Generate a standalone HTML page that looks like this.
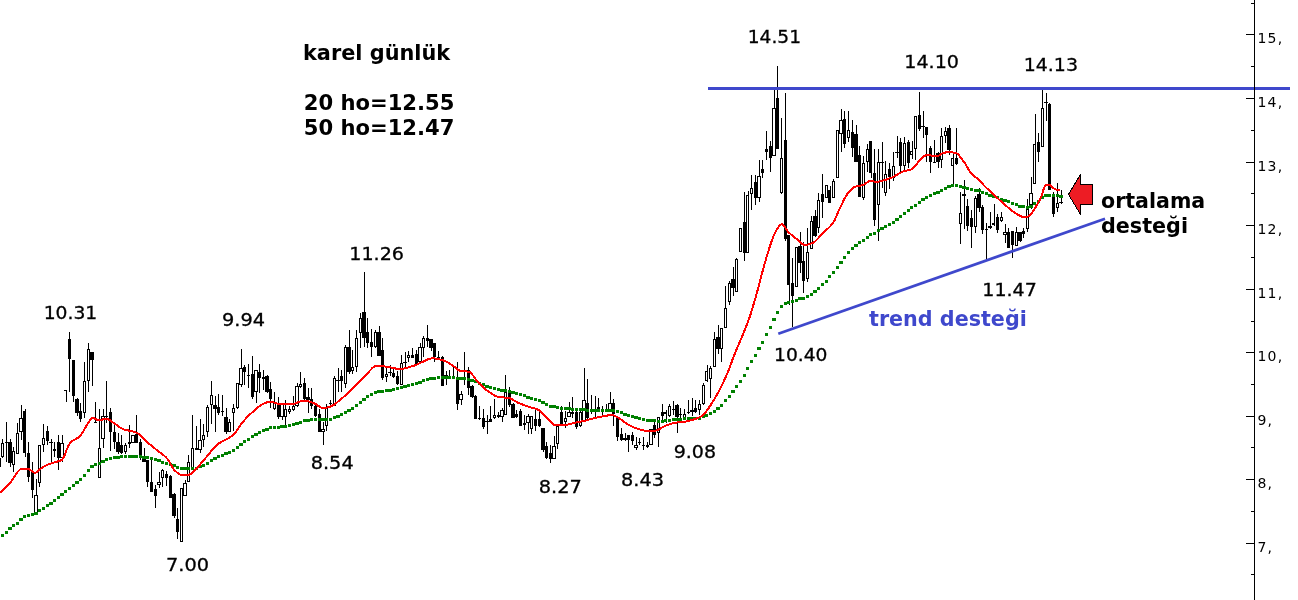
<!DOCTYPE html>
<html><head><meta charset="utf-8"><title>karel günlük</title>
<style>html,body{margin:0;padding:0;background:#fff}svg{display:block}.n{font-family:"DejaVu Sans","Liberation Sans",sans-serif;font-size:18px;fill:#000;stroke:#000;stroke-width:0.3px}.a{font-family:"DejaVu Sans","Liberation Sans",sans-serif;font-size:14px;letter-spacing:1.3px;fill:#000}.b{font-family:"DejaVu Sans","Liberation Sans",sans-serif;font-weight:bold;font-size:20.5px;fill:#000}</style></head><body>
<svg width="1298" height="600" viewBox="0 0 1298 600">
<rect width="1298" height="600" fill="#fff"/>
<g shape-rendering="crispEdges" fill="#000">
<rect x="2" y="439" width="1" height="19"/>
<rect x="1" y="443" width="3" height="14"/>
<rect x="2" y="444" width="1" height="12" fill="#fff"/>
<rect x="6" y="422" width="1" height="40"/>
<rect x="5" y="442" width="3" height="1"/>
<rect x="10" y="439" width="1" height="28"/>
<rect x="8" y="442" width="4" height="21"/>
<rect x="13" y="447" width="1" height="25"/>
<rect x="12" y="451" width="3" height="14"/>
<rect x="13" y="452" width="1" height="12" fill="#fff"/>
<rect x="17" y="423" width="1" height="31"/>
<rect x="16" y="433" width="3" height="21"/>
<rect x="17" y="434" width="1" height="19" fill="#fff"/>
<rect x="21" y="405" width="1" height="35"/>
<rect x="19" y="418" width="4" height="14"/>
<rect x="20" y="419" width="2" height="12" fill="#fff"/>
<rect x="25" y="409" width="1" height="48"/>
<rect x="23" y="411" width="3" height="42"/>
<rect x="28" y="442" width="1" height="40"/>
<rect x="27" y="453" width="3" height="24"/>
<rect x="32" y="462" width="1" height="36"/>
<rect x="31" y="472" width="3" height="18"/>
<rect x="36" y="479" width="1" height="35"/>
<rect x="34" y="495" width="4" height="19"/>
<rect x="35" y="496" width="2" height="17" fill="#fff"/>
<rect x="39" y="445" width="1" height="42"/>
<rect x="38" y="445" width="3" height="38"/>
<rect x="39" y="446" width="1" height="36" fill="#fff"/>
<rect x="43" y="424" width="1" height="28"/>
<rect x="42" y="438" width="3" height="7"/>
<rect x="43" y="439" width="1" height="5" fill="#fff"/>
<rect x="47" y="426" width="1" height="19"/>
<rect x="46" y="431" width="3" height="10"/>
<rect x="51" y="439" width="1" height="23"/>
<rect x="49" y="442" width="4" height="1"/>
<rect x="54" y="442" width="1" height="15"/>
<rect x="53" y="449" width="3" height="2"/>
<rect x="58" y="435" width="1" height="35"/>
<rect x="57" y="442" width="3" height="16"/>
<rect x="62" y="435" width="1" height="27"/>
<rect x="60" y="443" width="4" height="15"/>
<rect x="61" y="444" width="2" height="13" fill="#fff"/>
<rect x="66" y="390" width="1" height="12"/>
<rect x="64" y="390" width="3" height="1"/>
<rect x="69" y="332" width="1" height="60"/>
<rect x="68" y="339" width="3" height="20"/>
<rect x="73" y="360" width="1" height="42"/>
<rect x="72" y="360" width="3" height="36"/>
<rect x="77" y="398" width="1" height="18"/>
<rect x="75" y="399" width="4" height="14"/>
<rect x="80" y="403" width="1" height="19"/>
<rect x="79" y="411" width="3" height="8"/>
<rect x="84" y="362" width="1" height="56"/>
<rect x="83" y="381" width="3" height="32"/>
<rect x="84" y="382" width="1" height="30" fill="#fff"/>
<rect x="88" y="343" width="1" height="49"/>
<rect x="87" y="349" width="3" height="32"/>
<rect x="88" y="350" width="1" height="30" fill="#fff"/>
<rect x="92" y="352" width="1" height="34"/>
<rect x="90" y="352" width="4" height="8"/>
<rect x="95" y="402" width="1" height="20"/>
<rect x="94" y="422" width="3" height="1"/>
<rect x="99" y="409" width="1" height="69"/>
<rect x="98" y="448" width="3" height="30"/>
<rect x="99" y="449" width="1" height="28" fill="#fff"/>
<rect x="103" y="409" width="1" height="39"/>
<rect x="101" y="416" width="4" height="23"/>
<rect x="102" y="417" width="2" height="21" fill="#fff"/>
<rect x="106" y="381" width="1" height="42"/>
<rect x="105" y="416" width="3" height="1"/>
<rect x="110" y="408" width="1" height="43"/>
<rect x="109" y="412" width="3" height="20"/>
<rect x="114" y="424" width="1" height="25"/>
<rect x="113" y="432" width="3" height="10"/>
<rect x="118" y="433" width="1" height="21"/>
<rect x="116" y="442" width="4" height="10"/>
<rect x="121" y="435" width="1" height="19"/>
<rect x="120" y="445" width="3" height="8"/>
<rect x="125" y="443" width="1" height="11"/>
<rect x="124" y="445" width="3" height="7"/>
<rect x="125" y="446" width="1" height="5" fill="#fff"/>
<rect x="129" y="425" width="1" height="23"/>
<rect x="128" y="442" width="3" height="2"/>
<rect x="133" y="435" width="1" height="8"/>
<rect x="131" y="435" width="4" height="8"/>
<rect x="132" y="436" width="2" height="6" fill="#fff"/>
<rect x="136" y="415" width="1" height="28"/>
<rect x="135" y="434" width="3" height="9"/>
<rect x="140" y="439" width="1" height="21"/>
<rect x="139" y="442" width="3" height="16"/>
<rect x="144" y="448" width="1" height="14"/>
<rect x="142" y="458" width="4" height="4"/>
<rect x="147" y="460" width="1" height="27"/>
<rect x="146" y="460" width="3" height="22"/>
<rect x="151" y="460" width="1" height="32"/>
<rect x="150" y="482" width="3" height="10"/>
<rect x="155" y="485" width="1" height="23"/>
<rect x="154" y="489" width="3" height="7"/>
<rect x="159" y="472" width="1" height="16"/>
<rect x="157" y="482" width="4" height="3"/>
<rect x="158" y="483" width="2" height="1" fill="#fff"/>
<rect x="162" y="469" width="1" height="18"/>
<rect x="161" y="470" width="3" height="8"/>
<rect x="162" y="471" width="1" height="6" fill="#fff"/>
<rect x="166" y="471" width="1" height="15"/>
<rect x="165" y="474" width="3" height="4"/>
<rect x="170" y="475" width="1" height="23"/>
<rect x="169" y="476" width="3" height="22"/>
<rect x="174" y="493" width="1" height="25"/>
<rect x="172" y="494" width="4" height="22"/>
<rect x="177" y="508" width="1" height="31"/>
<rect x="176" y="519" width="3" height="13"/>
<rect x="181" y="488" width="1" height="54"/>
<rect x="180" y="488" width="3" height="54"/>
<rect x="181" y="489" width="1" height="52" fill="#fff"/>
<rect x="185" y="480" width="1" height="16"/>
<rect x="183" y="483" width="4" height="13"/>
<rect x="184" y="484" width="2" height="11" fill="#fff"/>
<rect x="188" y="455" width="1" height="27"/>
<rect x="187" y="462" width="3" height="20"/>
<rect x="188" y="463" width="1" height="18" fill="#fff"/>
<rect x="192" y="415" width="1" height="55"/>
<rect x="191" y="448" width="3" height="22"/>
<rect x="192" y="449" width="1" height="20" fill="#fff"/>
<rect x="196" y="426" width="1" height="24"/>
<rect x="195" y="448" width="3" height="2"/>
<rect x="200" y="419" width="1" height="34"/>
<rect x="198" y="440" width="4" height="10"/>
<rect x="199" y="441" width="2" height="8" fill="#fff"/>
<rect x="203" y="424" width="1" height="23"/>
<rect x="202" y="435" width="3" height="5"/>
<rect x="203" y="436" width="1" height="3" fill="#fff"/>
<rect x="207" y="405" width="1" height="32"/>
<rect x="206" y="407" width="3" height="25"/>
<rect x="207" y="408" width="1" height="23" fill="#fff"/>
<rect x="211" y="381" width="1" height="43"/>
<rect x="210" y="395" width="3" height="10"/>
<rect x="211" y="396" width="1" height="8" fill="#fff"/>
<rect x="215" y="396" width="1" height="36"/>
<rect x="213" y="405" width="4" height="4"/>
<rect x="218" y="394" width="1" height="21"/>
<rect x="217" y="407" width="3" height="6"/>
<rect x="222" y="395" width="1" height="21"/>
<rect x="221" y="411" width="3" height="1"/>
<rect x="226" y="408" width="1" height="26"/>
<rect x="224" y="417" width="4" height="15"/>
<rect x="229" y="419" width="1" height="13"/>
<rect x="228" y="422" width="3" height="10"/>
<rect x="229" y="423" width="1" height="8" fill="#fff"/>
<rect x="233" y="404" width="1" height="27"/>
<rect x="232" y="408" width="3" height="5"/>
<rect x="233" y="409" width="1" height="3" fill="#fff"/>
<rect x="237" y="383" width="1" height="26"/>
<rect x="236" y="383" width="3" height="25"/>
<rect x="237" y="384" width="1" height="23" fill="#fff"/>
<rect x="241" y="349" width="1" height="38"/>
<rect x="239" y="368" width="4" height="17"/>
<rect x="240" y="369" width="2" height="15" fill="#fff"/>
<rect x="244" y="365" width="1" height="20"/>
<rect x="243" y="367" width="3" height="5"/>
<rect x="248" y="364" width="1" height="24"/>
<rect x="247" y="375" width="3" height="1"/>
<rect x="252" y="356" width="1" height="43"/>
<rect x="251" y="374" width="3" height="23"/>
<rect x="256" y="370" width="1" height="33"/>
<rect x="254" y="370" width="4" height="22"/>
<rect x="255" y="371" width="2" height="20" fill="#fff"/>
<rect x="259" y="364" width="1" height="29"/>
<rect x="258" y="372" width="3" height="6"/>
<rect x="263" y="370" width="1" height="20"/>
<rect x="262" y="377" width="3" height="2"/>
<rect x="267" y="375" width="1" height="18"/>
<rect x="265" y="376" width="4" height="16"/>
<rect x="270" y="382" width="1" height="26"/>
<rect x="269" y="389" width="3" height="10"/>
<rect x="274" y="392" width="1" height="18"/>
<rect x="273" y="402" width="3" height="7"/>
<rect x="274" y="403" width="1" height="5" fill="#fff"/>
<rect x="278" y="397" width="1" height="22"/>
<rect x="277" y="404" width="3" height="13"/>
<rect x="282" y="404" width="1" height="16"/>
<rect x="280" y="404" width="4" height="13"/>
<rect x="281" y="405" width="2" height="11" fill="#fff"/>
<rect x="285" y="400" width="1" height="28"/>
<rect x="284" y="409" width="3" height="8"/>
<rect x="285" y="410" width="1" height="6" fill="#fff"/>
<rect x="289" y="406" width="1" height="8"/>
<rect x="288" y="409" width="3" height="3"/>
<rect x="289" y="410" width="1" height="1" fill="#fff"/>
<rect x="293" y="396" width="1" height="15"/>
<rect x="292" y="406" width="3" height="4"/>
<rect x="293" y="407" width="1" height="2" fill="#fff"/>
<rect x="297" y="383" width="1" height="24"/>
<rect x="295" y="386" width="4" height="20"/>
<rect x="296" y="387" width="2" height="18" fill="#fff"/>
<rect x="300" y="372" width="1" height="16"/>
<rect x="299" y="384" width="3" height="3"/>
<rect x="300" y="385" width="1" height="1" fill="#fff"/>
<rect x="304" y="378" width="1" height="22"/>
<rect x="303" y="383" width="3" height="16"/>
<rect x="308" y="388" width="1" height="25"/>
<rect x="306" y="397" width="4" height="3"/>
<rect x="311" y="388" width="1" height="21"/>
<rect x="310" y="399" width="3" height="7"/>
<rect x="315" y="404" width="1" height="13"/>
<rect x="314" y="406" width="3" height="10"/>
<rect x="319" y="409" width="1" height="23"/>
<rect x="318" y="414" width="3" height="18"/>
<rect x="323" y="422" width="1" height="23"/>
<rect x="321" y="429" width="4" height="3"/>
<rect x="322" y="430" width="2" height="1" fill="#fff"/>
<rect x="326" y="404" width="1" height="27"/>
<rect x="325" y="408" width="3" height="18"/>
<rect x="326" y="409" width="1" height="16" fill="#fff"/>
<rect x="330" y="400" width="1" height="7"/>
<rect x="329" y="403" width="3" height="1"/>
<rect x="334" y="376" width="1" height="30"/>
<rect x="333" y="378" width="3" height="28"/>
<rect x="334" y="379" width="1" height="26" fill="#fff"/>
<rect x="338" y="368" width="1" height="24"/>
<rect x="336" y="380" width="4" height="1"/>
<rect x="341" y="370" width="1" height="22"/>
<rect x="340" y="376" width="3" height="5"/>
<rect x="345" y="345" width="1" height="43"/>
<rect x="344" y="347" width="3" height="37"/>
<rect x="345" y="348" width="1" height="35" fill="#fff"/>
<rect x="349" y="330" width="1" height="44"/>
<rect x="347" y="347" width="4" height="25"/>
<rect x="352" y="350" width="1" height="24"/>
<rect x="351" y="367" width="3" height="4"/>
<rect x="352" y="368" width="1" height="2" fill="#fff"/>
<rect x="356" y="330" width="1" height="42"/>
<rect x="355" y="338" width="3" height="29"/>
<rect x="356" y="339" width="1" height="27" fill="#fff"/>
<rect x="360" y="313" width="1" height="35"/>
<rect x="359" y="318" width="3" height="15"/>
<rect x="360" y="319" width="1" height="13" fill="#fff"/>
<rect x="364" y="272" width="1" height="75"/>
<rect x="362" y="312" width="4" height="26"/>
<rect x="367" y="318" width="1" height="30"/>
<rect x="366" y="332" width="3" height="11"/>
<rect x="371" y="329" width="1" height="28"/>
<rect x="370" y="342" width="3" height="5"/>
<rect x="375" y="330" width="1" height="18"/>
<rect x="374" y="332" width="3" height="15"/>
<rect x="375" y="333" width="1" height="13" fill="#fff"/>
<rect x="379" y="326" width="1" height="30"/>
<rect x="377" y="332" width="4" height="24"/>
<rect x="382" y="338" width="1" height="42"/>
<rect x="381" y="350" width="3" height="28"/>
<rect x="386" y="367" width="1" height="15"/>
<rect x="385" y="374" width="3" height="3"/>
<rect x="386" y="375" width="1" height="1" fill="#fff"/>
<rect x="390" y="365" width="1" height="11"/>
<rect x="388" y="372" width="4" height="1"/>
<rect x="393" y="367" width="1" height="11"/>
<rect x="392" y="373" width="3" height="4"/>
<rect x="397" y="371" width="1" height="14"/>
<rect x="396" y="376" width="3" height="8"/>
<rect x="401" y="355" width="1" height="30"/>
<rect x="400" y="363" width="3" height="22"/>
<rect x="401" y="364" width="1" height="20" fill="#fff"/>
<rect x="405" y="352" width="1" height="16"/>
<rect x="403" y="362" width="4" height="1"/>
<rect x="408" y="351" width="1" height="11"/>
<rect x="407" y="355" width="3" height="3"/>
<rect x="408" y="356" width="1" height="1" fill="#fff"/>
<rect x="412" y="348" width="1" height="10"/>
<rect x="411" y="355" width="3" height="3"/>
<rect x="416" y="350" width="1" height="15"/>
<rect x="415" y="354" width="3" height="11"/>
<rect x="420" y="343" width="1" height="19"/>
<rect x="418" y="347" width="4" height="15"/>
<rect x="419" y="348" width="2" height="13" fill="#fff"/>
<rect x="423" y="336" width="1" height="21"/>
<rect x="422" y="338" width="3" height="10"/>
<rect x="423" y="339" width="1" height="8" fill="#fff"/>
<rect x="427" y="325" width="1" height="22"/>
<rect x="426" y="338" width="3" height="3"/>
<rect x="431" y="339" width="1" height="12"/>
<rect x="429" y="339" width="4" height="9"/>
<rect x="434" y="343" width="1" height="19"/>
<rect x="433" y="343" width="3" height="14"/>
<rect x="438" y="351" width="1" height="9"/>
<rect x="437" y="357" width="3" height="1"/>
<rect x="442" y="356" width="1" height="30"/>
<rect x="441" y="357" width="3" height="29"/>
<rect x="446" y="371" width="1" height="14"/>
<rect x="444" y="375" width="4" height="1"/>
<rect x="449" y="370" width="1" height="8"/>
<rect x="448" y="376" width="3" height="1"/>
<rect x="453" y="367" width="1" height="12"/>
<rect x="452" y="377" width="3" height="1"/>
<rect x="457" y="362" width="1" height="48"/>
<rect x="456" y="379" width="3" height="25"/>
<rect x="461" y="391" width="1" height="14"/>
<rect x="459" y="394" width="4" height="6"/>
<rect x="460" y="395" width="2" height="4" fill="#fff"/>
<rect x="464" y="352" width="1" height="33"/>
<rect x="463" y="377" width="3" height="1"/>
<rect x="468" y="367" width="1" height="28"/>
<rect x="467" y="370" width="3" height="18"/>
<rect x="472" y="385" width="1" height="13"/>
<rect x="470" y="386" width="4" height="11"/>
<rect x="475" y="395" width="1" height="24"/>
<rect x="474" y="396" width="3" height="23"/>
<rect x="479" y="406" width="1" height="14"/>
<rect x="478" y="418" width="3" height="1"/>
<rect x="483" y="409" width="1" height="20"/>
<rect x="482" y="418" width="3" height="9"/>
<rect x="487" y="415" width="1" height="19"/>
<rect x="485" y="421" width="4" height="1"/>
<rect x="490" y="406" width="1" height="16"/>
<rect x="489" y="419" width="3" height="3"/>
<rect x="494" y="399" width="1" height="20"/>
<rect x="493" y="415" width="3" height="3"/>
<rect x="494" y="416" width="1" height="1" fill="#fff"/>
<rect x="498" y="412" width="1" height="6"/>
<rect x="497" y="415" width="3" height="2"/>
<rect x="502" y="408" width="1" height="14"/>
<rect x="500" y="410" width="4" height="7"/>
<rect x="501" y="411" width="2" height="5" fill="#fff"/>
<rect x="505" y="375" width="1" height="40"/>
<rect x="504" y="392" width="3" height="23"/>
<rect x="505" y="393" width="1" height="21" fill="#fff"/>
<rect x="509" y="387" width="1" height="20"/>
<rect x="508" y="392" width="3" height="13"/>
<rect x="513" y="403" width="1" height="15"/>
<rect x="511" y="404" width="4" height="14"/>
<rect x="516" y="410" width="1" height="8"/>
<rect x="515" y="414" width="3" height="3"/>
<rect x="520" y="409" width="1" height="17"/>
<rect x="519" y="411" width="3" height="15"/>
<rect x="524" y="415" width="1" height="15"/>
<rect x="523" y="423" width="3" height="2"/>
<rect x="528" y="414" width="1" height="20"/>
<rect x="526" y="416" width="4" height="7"/>
<rect x="527" y="417" width="2" height="5" fill="#fff"/>
<rect x="531" y="416" width="1" height="18"/>
<rect x="530" y="416" width="3" height="13"/>
<rect x="531" y="417" width="1" height="11" fill="#fff"/>
<rect x="535" y="408" width="1" height="23"/>
<rect x="534" y="419" width="3" height="7"/>
<rect x="539" y="412" width="1" height="15"/>
<rect x="538" y="419" width="3" height="7"/>
<rect x="543" y="428" width="1" height="24"/>
<rect x="541" y="428" width="4" height="22"/>
<rect x="546" y="442" width="1" height="17"/>
<rect x="545" y="446" width="3" height="12"/>
<rect x="550" y="445" width="1" height="18"/>
<rect x="549" y="453" width="3" height="6"/>
<rect x="554" y="436" width="1" height="23"/>
<rect x="552" y="446" width="4" height="13"/>
<rect x="553" y="447" width="2" height="11" fill="#fff"/>
<rect x="557" y="426" width="1" height="23"/>
<rect x="556" y="426" width="3" height="18"/>
<rect x="557" y="427" width="1" height="16" fill="#fff"/>
<rect x="561" y="406" width="1" height="19"/>
<rect x="560" y="412" width="3" height="12"/>
<rect x="565" y="411" width="1" height="17"/>
<rect x="564" y="418" width="3" height="4"/>
<rect x="565" y="419" width="1" height="2" fill="#fff"/>
<rect x="569" y="402" width="1" height="15"/>
<rect x="567" y="412" width="4" height="5"/>
<rect x="568" y="413" width="2" height="3" fill="#fff"/>
<rect x="572" y="397" width="1" height="21"/>
<rect x="571" y="412" width="3" height="2"/>
<rect x="576" y="411" width="1" height="18"/>
<rect x="575" y="412" width="3" height="15"/>
<rect x="580" y="410" width="1" height="17"/>
<rect x="579" y="412" width="3" height="14"/>
<rect x="580" y="413" width="1" height="12" fill="#fff"/>
<rect x="584" y="368" width="1" height="54"/>
<rect x="582" y="400" width="4" height="22"/>
<rect x="583" y="401" width="2" height="20" fill="#fff"/>
<rect x="587" y="379" width="1" height="40"/>
<rect x="586" y="403" width="3" height="15"/>
<rect x="591" y="395" width="1" height="19"/>
<rect x="590" y="410" width="3" height="1"/>
<rect x="595" y="396" width="1" height="21"/>
<rect x="593" y="410" width="4" height="1"/>
<rect x="598" y="398" width="1" height="12"/>
<rect x="597" y="407" width="3" height="2"/>
<rect x="602" y="406" width="1" height="10"/>
<rect x="601" y="411" width="3" height="1"/>
<rect x="606" y="404" width="1" height="8"/>
<rect x="605" y="409" width="3" height="1"/>
<rect x="610" y="392" width="1" height="18"/>
<rect x="608" y="403" width="4" height="7"/>
<rect x="609" y="404" width="2" height="5" fill="#fff"/>
<rect x="613" y="399" width="1" height="27"/>
<rect x="612" y="403" width="3" height="11"/>
<rect x="617" y="416" width="1" height="25"/>
<rect x="616" y="418" width="3" height="19"/>
<rect x="621" y="428" width="1" height="13"/>
<rect x="620" y="434" width="3" height="6"/>
<rect x="625" y="433" width="1" height="8"/>
<rect x="623" y="438" width="4" height="2"/>
<rect x="628" y="435" width="1" height="17"/>
<rect x="627" y="435" width="3" height="5"/>
<rect x="632" y="432" width="1" height="13"/>
<rect x="631" y="435" width="3" height="6"/>
<rect x="636" y="437" width="1" height="13"/>
<rect x="634" y="445" width="4" height="3"/>
<rect x="635" y="446" width="2" height="1" fill="#fff"/>
<rect x="639" y="438" width="1" height="7"/>
<rect x="638" y="442" width="3" height="1"/>
<rect x="643" y="437" width="1" height="13"/>
<rect x="642" y="445" width="3" height="1"/>
<rect x="647" y="442" width="1" height="6"/>
<rect x="646" y="445" width="3" height="2"/>
<rect x="651" y="429" width="1" height="16"/>
<rect x="649" y="429" width="4" height="16"/>
<rect x="650" y="430" width="2" height="14" fill="#fff"/>
<rect x="654" y="422" width="1" height="16"/>
<rect x="653" y="425" width="3" height="10"/>
<rect x="658" y="417" width="1" height="30"/>
<rect x="657" y="417" width="3" height="16"/>
<rect x="658" y="418" width="1" height="14" fill="#fff"/>
<rect x="662" y="404" width="1" height="16"/>
<rect x="661" y="412" width="3" height="4"/>
<rect x="666" y="410" width="1" height="13"/>
<rect x="664" y="412" width="3" height="2"/>
<rect x="669" y="404" width="1" height="13"/>
<rect x="668" y="406" width="3" height="10"/>
<rect x="669" y="407" width="1" height="8" fill="#fff"/>
<rect x="673" y="401" width="1" height="14"/>
<rect x="672" y="409" width="3" height="1"/>
<rect x="677" y="404" width="1" height="29"/>
<rect x="675" y="405" width="4" height="12"/>
<rect x="680" y="408" width="1" height="10"/>
<rect x="679" y="414" width="3" height="1"/>
<rect x="684" y="409" width="1" height="10"/>
<rect x="683" y="414" width="3" height="4"/>
<rect x="684" y="415" width="1" height="2" fill="#fff"/>
<rect x="688" y="400" width="1" height="14"/>
<rect x="687" y="412" width="3" height="1"/>
<rect x="692" y="398" width="1" height="18"/>
<rect x="690" y="410" width="4" height="2"/>
<rect x="695" y="400" width="1" height="13"/>
<rect x="694" y="408" width="3" height="4"/>
<rect x="699" y="400" width="1" height="15"/>
<rect x="698" y="404" width="3" height="6"/>
<rect x="699" y="405" width="1" height="4" fill="#fff"/>
<rect x="703" y="383" width="1" height="22"/>
<rect x="702" y="385" width="3" height="19"/>
<rect x="703" y="386" width="1" height="17" fill="#fff"/>
<rect x="707" y="365" width="1" height="17"/>
<rect x="705" y="371" width="3" height="10"/>
<rect x="706" y="372" width="1" height="8" fill="#fff"/>
<rect x="710" y="366" width="1" height="32"/>
<rect x="709" y="368" width="3" height="11"/>
<rect x="710" y="369" width="1" height="9" fill="#fff"/>
<rect x="714" y="332" width="1" height="35"/>
<rect x="713" y="339" width="3" height="28"/>
<rect x="714" y="340" width="1" height="26" fill="#fff"/>
<rect x="718" y="325" width="1" height="29"/>
<rect x="716" y="337" width="4" height="12"/>
<rect x="721" y="328" width="1" height="34"/>
<rect x="720" y="328" width="3" height="21"/>
<rect x="721" y="329" width="1" height="19" fill="#fff"/>
<rect x="725" y="286" width="1" height="42"/>
<rect x="724" y="308" width="3" height="20"/>
<rect x="725" y="309" width="1" height="18" fill="#fff"/>
<rect x="729" y="281" width="1" height="24"/>
<rect x="728" y="283" width="3" height="19"/>
<rect x="729" y="284" width="1" height="17" fill="#fff"/>
<rect x="733" y="267" width="1" height="29"/>
<rect x="731" y="279" width="4" height="9"/>
<rect x="736" y="258" width="1" height="34"/>
<rect x="735" y="259" width="3" height="33"/>
<rect x="736" y="260" width="1" height="31" fill="#fff"/>
<rect x="740" y="228" width="1" height="24"/>
<rect x="739" y="228" width="3" height="24"/>
<rect x="740" y="229" width="1" height="22" fill="#fff"/>
<rect x="744" y="192" width="1" height="69"/>
<rect x="743" y="222" width="3" height="31"/>
<rect x="748" y="191" width="1" height="62"/>
<rect x="746" y="195" width="3" height="58"/>
<rect x="747" y="196" width="1" height="56" fill="#fff"/>
<rect x="751" y="175" width="1" height="35"/>
<rect x="750" y="188" width="3" height="6"/>
<rect x="751" y="189" width="1" height="4" fill="#fff"/>
<rect x="755" y="175" width="1" height="30"/>
<rect x="754" y="182" width="3" height="16"/>
<rect x="759" y="160" width="1" height="42"/>
<rect x="757" y="176" width="4" height="22"/>
<rect x="758" y="177" width="2" height="20" fill="#fff"/>
<rect x="762" y="160" width="1" height="18"/>
<rect x="761" y="169" width="3" height="4"/>
<rect x="766" y="131" width="1" height="29"/>
<rect x="765" y="149" width="3" height="3"/>
<rect x="770" y="141" width="1" height="31"/>
<rect x="769" y="146" width="3" height="12"/>
<rect x="774" y="89" width="1" height="67"/>
<rect x="772" y="108" width="4" height="48"/>
<rect x="773" y="109" width="2" height="46" fill="#fff"/>
<rect x="777" y="66" width="1" height="83"/>
<rect x="776" y="98" width="3" height="51"/>
<rect x="781" y="118" width="1" height="76"/>
<rect x="780" y="158" width="3" height="35"/>
<rect x="781" y="159" width="1" height="33" fill="#fff"/>
<rect x="785" y="93" width="1" height="148"/>
<rect x="784" y="140" width="3" height="99"/>
<rect x="789" y="235" width="1" height="70"/>
<rect x="787" y="235" width="3" height="50"/>
<rect x="792" y="258" width="1" height="69"/>
<rect x="791" y="283" width="3" height="13"/>
<rect x="796" y="247" width="1" height="40"/>
<rect x="795" y="247" width="3" height="40"/>
<rect x="796" y="248" width="1" height="38" fill="#fff"/>
<rect x="800" y="232" width="1" height="41"/>
<rect x="798" y="246" width="4" height="17"/>
<rect x="803" y="242" width="1" height="51"/>
<rect x="802" y="261" width="3" height="20"/>
<rect x="807" y="228" width="1" height="54"/>
<rect x="806" y="252" width="3" height="27"/>
<rect x="807" y="253" width="1" height="25" fill="#fff"/>
<rect x="811" y="216" width="1" height="33"/>
<rect x="810" y="221" width="3" height="28"/>
<rect x="811" y="222" width="1" height="26" fill="#fff"/>
<rect x="815" y="210" width="1" height="27"/>
<rect x="813" y="216" width="4" height="20"/>
<rect x="818" y="193" width="1" height="40"/>
<rect x="817" y="200" width="3" height="28"/>
<rect x="818" y="201" width="1" height="26" fill="#fff"/>
<rect x="822" y="174" width="1" height="44"/>
<rect x="821" y="194" width="3" height="8"/>
<rect x="826" y="185" width="1" height="13"/>
<rect x="825" y="185" width="3" height="13"/>
<rect x="826" y="186" width="1" height="11" fill="#fff"/>
<rect x="830" y="186" width="1" height="17"/>
<rect x="828" y="190" width="3" height="13"/>
<rect x="833" y="179" width="1" height="19"/>
<rect x="832" y="181" width="3" height="17"/>
<rect x="833" y="182" width="1" height="15" fill="#fff"/>
<rect x="837" y="130" width="1" height="48"/>
<rect x="836" y="130" width="3" height="48"/>
<rect x="837" y="131" width="1" height="46" fill="#fff"/>
<rect x="841" y="109" width="1" height="43"/>
<rect x="839" y="120" width="4" height="14"/>
<rect x="840" y="121" width="2" height="12" fill="#fff"/>
<rect x="844" y="111" width="1" height="37"/>
<rect x="843" y="119" width="3" height="25"/>
<rect x="848" y="111" width="1" height="31"/>
<rect x="847" y="130" width="3" height="8"/>
<rect x="848" y="131" width="1" height="6" fill="#fff"/>
<rect x="852" y="120" width="1" height="37"/>
<rect x="851" y="132" width="3" height="16"/>
<rect x="856" y="125" width="1" height="37"/>
<rect x="854" y="134" width="4" height="28"/>
<rect x="859" y="146" width="1" height="51"/>
<rect x="858" y="155" width="3" height="42"/>
<rect x="863" y="156" width="1" height="44"/>
<rect x="862" y="163" width="3" height="35"/>
<rect x="863" y="164" width="1" height="33" fill="#fff"/>
<rect x="867" y="144" width="1" height="28"/>
<rect x="866" y="149" width="3" height="13"/>
<rect x="867" y="150" width="1" height="11" fill="#fff"/>
<rect x="871" y="141" width="1" height="37"/>
<rect x="869" y="141" width="3" height="32"/>
<rect x="874" y="149" width="1" height="77"/>
<rect x="873" y="173" width="3" height="47"/>
<rect x="878" y="149" width="1" height="92"/>
<rect x="877" y="162" width="3" height="43"/>
<rect x="878" y="163" width="1" height="41" fill="#fff"/>
<rect x="882" y="142" width="1" height="46"/>
<rect x="880" y="162" width="4" height="1"/>
<rect x="885" y="161" width="1" height="35"/>
<rect x="884" y="174" width="3" height="19"/>
<rect x="885" y="175" width="1" height="17" fill="#fff"/>
<rect x="889" y="163" width="1" height="26"/>
<rect x="888" y="169" width="3" height="8"/>
<rect x="893" y="152" width="1" height="29"/>
<rect x="892" y="166" width="3" height="12"/>
<rect x="893" y="167" width="1" height="10" fill="#fff"/>
<rect x="897" y="136" width="1" height="22"/>
<rect x="895" y="152" width="4" height="1"/>
<rect x="900" y="138" width="1" height="34"/>
<rect x="899" y="142" width="3" height="24"/>
<rect x="904" y="137" width="1" height="33"/>
<rect x="903" y="143" width="3" height="23"/>
<rect x="904" y="144" width="1" height="21" fill="#fff"/>
<rect x="908" y="140" width="1" height="28"/>
<rect x="907" y="142" width="3" height="21"/>
<rect x="912" y="141" width="1" height="18"/>
<rect x="910" y="151" width="3" height="4"/>
<rect x="911" y="152" width="1" height="2" fill="#fff"/>
<rect x="915" y="116" width="1" height="44"/>
<rect x="914" y="116" width="3" height="33"/>
<rect x="915" y="117" width="1" height="31" fill="#fff"/>
<rect x="919" y="92" width="1" height="39"/>
<rect x="918" y="115" width="3" height="14"/>
<rect x="923" y="111" width="1" height="27"/>
<rect x="921" y="126" width="4" height="1"/>
<rect x="926" y="127" width="1" height="35"/>
<rect x="925" y="127" width="3" height="8"/>
<rect x="930" y="146" width="1" height="27"/>
<rect x="929" y="148" width="3" height="14"/>
<rect x="934" y="140" width="1" height="22"/>
<rect x="933" y="162" width="3" height="1"/>
<rect x="938" y="152" width="1" height="16"/>
<rect x="936" y="153" width="4" height="9"/>
<rect x="941" y="128" width="1" height="40"/>
<rect x="940" y="136" width="3" height="24"/>
<rect x="941" y="137" width="1" height="22" fill="#fff"/>
<rect x="945" y="127" width="1" height="16"/>
<rect x="944" y="131" width="3" height="5"/>
<rect x="945" y="132" width="1" height="3" fill="#fff"/>
<rect x="949" y="125" width="1" height="30"/>
<rect x="947" y="128" width="4" height="22"/>
<rect x="953" y="152" width="1" height="32"/>
<rect x="951" y="158" width="3" height="8"/>
<rect x="952" y="159" width="1" height="6" fill="#fff"/>
<rect x="956" y="128" width="1" height="37"/>
<rect x="955" y="158" width="3" height="6"/>
<rect x="960" y="192" width="1" height="52"/>
<rect x="959" y="213" width="3" height="11"/>
<rect x="960" y="214" width="1" height="9" fill="#fff"/>
<rect x="964" y="180" width="1" height="49"/>
<rect x="962" y="194" width="4" height="2"/>
<rect x="967" y="199" width="1" height="32"/>
<rect x="966" y="206" width="3" height="20"/>
<rect x="971" y="210" width="1" height="38"/>
<rect x="970" y="218" width="3" height="9"/>
<rect x="975" y="196" width="1" height="37"/>
<rect x="974" y="198" width="3" height="29"/>
<rect x="975" y="199" width="1" height="27" fill="#fff"/>
<rect x="979" y="188" width="1" height="24"/>
<rect x="977" y="194" width="4" height="14"/>
<rect x="982" y="205" width="1" height="29"/>
<rect x="981" y="207" width="3" height="23"/>
<rect x="986" y="223" width="1" height="36"/>
<rect x="985" y="229" width="3" height="1"/>
<rect x="990" y="212" width="1" height="17"/>
<rect x="988" y="226" width="4" height="2"/>
<rect x="994" y="204" width="1" height="22"/>
<rect x="992" y="223" width="3" height="2"/>
<rect x="997" y="214" width="1" height="19"/>
<rect x="996" y="217" width="3" height="13"/>
<rect x="1001" y="212" width="1" height="10"/>
<rect x="1000" y="217" width="3" height="4"/>
<rect x="1001" y="218" width="1" height="2" fill="#fff"/>
<rect x="1005" y="224" width="1" height="19"/>
<rect x="1003" y="232" width="4" height="3"/>
<rect x="1004" y="233" width="2" height="1" fill="#fff"/>
<rect x="1008" y="228" width="1" height="20"/>
<rect x="1007" y="232" width="3" height="16"/>
<rect x="1012" y="231" width="1" height="27"/>
<rect x="1011" y="231" width="3" height="14"/>
<rect x="1016" y="227" width="1" height="19"/>
<rect x="1015" y="232" width="3" height="14"/>
<rect x="1016" y="233" width="1" height="12" fill="#fff"/>
<rect x="1020" y="232" width="1" height="10"/>
<rect x="1018" y="232" width="4" height="9"/>
<rect x="1023" y="228" width="1" height="10"/>
<rect x="1022" y="231" width="3" height="3"/>
<rect x="1027" y="199" width="1" height="33"/>
<rect x="1026" y="209" width="3" height="20"/>
<rect x="1027" y="210" width="1" height="18" fill="#fff"/>
<rect x="1031" y="177" width="1" height="32"/>
<rect x="1029" y="193" width="4" height="12"/>
<rect x="1030" y="194" width="2" height="10" fill="#fff"/>
<rect x="1035" y="114" width="1" height="70"/>
<rect x="1033" y="144" width="3" height="40"/>
<rect x="1034" y="145" width="1" height="38" fill="#fff"/>
<rect x="1038" y="133" width="1" height="29"/>
<rect x="1037" y="142" width="3" height="10"/>
<rect x="1042" y="90" width="1" height="57"/>
<rect x="1041" y="108" width="3" height="39"/>
<rect x="1042" y="109" width="1" height="37" fill="#fff"/>
<rect x="1046" y="93" width="1" height="28"/>
<rect x="1044" y="102" width="4" height="1"/>
<rect x="1049" y="103" width="1" height="87"/>
<rect x="1048" y="104" width="3" height="86"/>
<rect x="1053" y="192" width="1" height="25"/>
<rect x="1052" y="194" width="3" height="20"/>
<rect x="1057" y="183" width="1" height="29"/>
<rect x="1056" y="203" width="3" height="5"/>
<rect x="1057" y="204" width="1" height="3" fill="#fff"/>
<rect x="1061" y="190" width="1" height="14"/>
<rect x="1059" y="202" width="4" height="1"/>
<rect x="0" y="458" width="1" height="9"/>
</g>
<g shape-rendering="crispEdges" fill="#008000">
<rect x="1" y="534" width="3" height="3"/>
<rect x="5" y="531" width="3" height="3"/>
<rect x="8" y="527" width="4" height="3"/>
<rect x="12" y="524" width="3" height="3"/>
<rect x="16" y="522" width="3" height="3"/>
<rect x="19" y="518" width="4" height="3"/>
<rect x="23" y="515" width="3" height="3"/>
<rect x="27" y="514" width="3" height="3"/>
<rect x="31" y="513" width="3" height="3"/>
<rect x="34" y="512" width="4" height="3"/>
<rect x="38" y="509" width="3" height="3"/>
<rect x="42" y="507" width="3" height="3"/>
<rect x="46" y="504" width="3" height="3"/>
<rect x="49" y="502" width="4" height="3"/>
<rect x="53" y="499" width="3" height="3"/>
<rect x="57" y="496" width="3" height="3"/>
<rect x="60" y="493" width="4" height="3"/>
<rect x="64" y="490" width="3" height="3"/>
<rect x="68" y="487" width="3" height="3"/>
<rect x="72" y="484" width="3" height="3"/>
<rect x="75" y="481" width="4" height="3"/>
<rect x="79" y="478" width="3" height="3"/>
<rect x="83" y="474" width="3" height="3"/>
<rect x="87" y="469" width="3" height="3"/>
<rect x="90" y="465" width="4" height="3"/>
<rect x="94" y="463" width="3" height="3"/>
<rect x="98" y="462" width="3" height="3"/>
<rect x="101" y="460" width="4" height="3"/>
<rect x="105" y="458" width="3" height="3"/>
<rect x="109" y="457" width="3" height="3"/>
<rect x="113" y="456" width="3" height="3"/>
<rect x="116" y="456" width="4" height="3"/>
<rect x="120" y="455" width="3" height="3"/>
<rect x="124" y="455" width="3" height="3"/>
<rect x="128" y="455" width="3" height="3"/>
<rect x="131" y="455" width="4" height="3"/>
<rect x="135" y="455" width="3" height="3"/>
<rect x="139" y="455" width="3" height="3"/>
<rect x="142" y="456" width="4" height="3"/>
<rect x="146" y="456" width="3" height="3"/>
<rect x="150" y="457" width="3" height="3"/>
<rect x="154" y="458" width="3" height="3"/>
<rect x="157" y="459" width="4" height="3"/>
<rect x="161" y="461" width="3" height="3"/>
<rect x="165" y="462" width="3" height="3"/>
<rect x="169" y="463" width="3" height="3"/>
<rect x="172" y="464" width="4" height="3"/>
<rect x="176" y="466" width="3" height="3"/>
<rect x="180" y="467" width="3" height="3"/>
<rect x="183" y="467" width="4" height="3"/>
<rect x="187" y="467" width="3" height="3"/>
<rect x="191" y="467" width="3" height="3"/>
<rect x="195" y="467" width="3" height="3"/>
<rect x="198" y="465" width="4" height="3"/>
<rect x="202" y="464" width="3" height="3"/>
<rect x="206" y="462" width="3" height="3"/>
<rect x="210" y="459" width="3" height="3"/>
<rect x="213" y="457" width="4" height="3"/>
<rect x="217" y="455" width="3" height="3"/>
<rect x="221" y="454" width="3" height="3"/>
<rect x="224" y="452" width="4" height="3"/>
<rect x="228" y="451" width="3" height="3"/>
<rect x="232" y="449" width="3" height="3"/>
<rect x="236" y="446" width="3" height="3"/>
<rect x="239" y="443" width="4" height="3"/>
<rect x="243" y="440" width="3" height="3"/>
<rect x="247" y="438" width="3" height="3"/>
<rect x="251" y="435" width="3" height="3"/>
<rect x="254" y="433" width="4" height="3"/>
<rect x="258" y="431" width="3" height="3"/>
<rect x="262" y="429" width="3" height="3"/>
<rect x="265" y="428" width="4" height="3"/>
<rect x="269" y="426" width="3" height="3"/>
<rect x="273" y="426" width="3" height="3"/>
<rect x="277" y="426" width="3" height="3"/>
<rect x="280" y="425" width="4" height="3"/>
<rect x="284" y="425" width="3" height="3"/>
<rect x="288" y="424" width="3" height="3"/>
<rect x="292" y="423" width="3" height="3"/>
<rect x="295" y="422" width="4" height="3"/>
<rect x="299" y="421" width="3" height="3"/>
<rect x="303" y="419" width="3" height="3"/>
<rect x="306" y="419" width="4" height="3"/>
<rect x="310" y="418" width="3" height="3"/>
<rect x="314" y="418" width="3" height="3"/>
<rect x="318" y="418" width="3" height="3"/>
<rect x="321" y="418" width="4" height="3"/>
<rect x="325" y="418" width="3" height="3"/>
<rect x="329" y="418" width="3" height="3"/>
<rect x="333" y="416" width="3" height="3"/>
<rect x="336" y="415" width="4" height="3"/>
<rect x="340" y="413" width="3" height="3"/>
<rect x="344" y="411" width="3" height="3"/>
<rect x="347" y="409" width="4" height="3"/>
<rect x="351" y="407" width="3" height="3"/>
<rect x="355" y="404" width="3" height="3"/>
<rect x="359" y="401" width="3" height="3"/>
<rect x="362" y="398" width="4" height="3"/>
<rect x="366" y="395" width="3" height="3"/>
<rect x="370" y="393" width="3" height="3"/>
<rect x="374" y="391" width="3" height="3"/>
<rect x="377" y="390" width="4" height="3"/>
<rect x="381" y="390" width="3" height="3"/>
<rect x="385" y="389" width="3" height="3"/>
<rect x="388" y="389" width="4" height="3"/>
<rect x="392" y="388" width="3" height="3"/>
<rect x="396" y="387" width="3" height="3"/>
<rect x="400" y="386" width="3" height="3"/>
<rect x="403" y="385" width="4" height="3"/>
<rect x="407" y="384" width="3" height="3"/>
<rect x="411" y="383" width="3" height="3"/>
<rect x="415" y="382" width="3" height="3"/>
<rect x="418" y="381" width="4" height="3"/>
<rect x="422" y="379" width="3" height="3"/>
<rect x="426" y="378" width="3" height="3"/>
<rect x="429" y="377" width="4" height="3"/>
<rect x="433" y="377" width="3" height="3"/>
<rect x="437" y="376" width="3" height="3"/>
<rect x="441" y="376" width="3" height="3"/>
<rect x="444" y="376" width="4" height="3"/>
<rect x="448" y="376" width="3" height="3"/>
<rect x="452" y="376" width="3" height="3"/>
<rect x="456" y="377" width="3" height="3"/>
<rect x="459" y="377" width="4" height="3"/>
<rect x="463" y="377" width="3" height="3"/>
<rect x="467" y="378" width="3" height="3"/>
<rect x="470" y="379" width="4" height="3"/>
<rect x="474" y="380" width="3" height="3"/>
<rect x="478" y="382" width="3" height="3"/>
<rect x="482" y="383" width="3" height="3"/>
<rect x="485" y="385" width="4" height="3"/>
<rect x="489" y="386" width="3" height="3"/>
<rect x="493" y="387" width="3" height="3"/>
<rect x="497" y="388" width="3" height="3"/>
<rect x="500" y="389" width="4" height="3"/>
<rect x="504" y="389" width="3" height="3"/>
<rect x="508" y="390" width="3" height="3"/>
<rect x="511" y="391" width="4" height="3"/>
<rect x="515" y="392" width="3" height="3"/>
<rect x="519" y="393" width="3" height="3"/>
<rect x="523" y="394" width="3" height="3"/>
<rect x="526" y="396" width="4" height="3"/>
<rect x="530" y="397" width="3" height="3"/>
<rect x="534" y="398" width="3" height="3"/>
<rect x="538" y="399" width="3" height="3"/>
<rect x="541" y="401" width="4" height="3"/>
<rect x="545" y="403" width="3" height="3"/>
<rect x="549" y="405" width="3" height="3"/>
<rect x="552" y="405" width="4" height="3"/>
<rect x="556" y="406" width="3" height="3"/>
<rect x="560" y="407" width="3" height="3"/>
<rect x="564" y="407" width="3" height="3"/>
<rect x="567" y="407" width="4" height="3"/>
<rect x="571" y="408" width="3" height="3"/>
<rect x="575" y="408" width="3" height="3"/>
<rect x="579" y="408" width="3" height="3"/>
<rect x="582" y="408" width="4" height="3"/>
<rect x="586" y="409" width="3" height="3"/>
<rect x="590" y="409" width="3" height="3"/>
<rect x="593" y="409" width="4" height="3"/>
<rect x="597" y="409" width="3" height="3"/>
<rect x="601" y="409" width="3" height="3"/>
<rect x="605" y="409" width="3" height="3"/>
<rect x="608" y="409" width="4" height="3"/>
<rect x="612" y="409" width="3" height="3"/>
<rect x="616" y="410" width="3" height="3"/>
<rect x="620" y="411" width="3" height="3"/>
<rect x="623" y="413" width="4" height="3"/>
<rect x="627" y="414" width="3" height="3"/>
<rect x="631" y="415" width="3" height="3"/>
<rect x="634" y="416" width="4" height="3"/>
<rect x="638" y="417" width="3" height="3"/>
<rect x="642" y="418" width="3" height="3"/>
<rect x="646" y="419" width="3" height="3"/>
<rect x="649" y="419" width="4" height="3"/>
<rect x="653" y="419" width="3" height="3"/>
<rect x="657" y="420" width="3" height="3"/>
<rect x="661" y="420" width="3" height="3"/>
<rect x="664" y="419" width="3" height="3"/>
<rect x="668" y="419" width="3" height="3"/>
<rect x="672" y="418" width="3" height="3"/>
<rect x="675" y="418" width="4" height="3"/>
<rect x="679" y="418" width="3" height="3"/>
<rect x="683" y="417" width="3" height="3"/>
<rect x="687" y="417" width="3" height="3"/>
<rect x="690" y="417" width="4" height="3"/>
<rect x="694" y="417" width="3" height="3"/>
<rect x="698" y="417" width="3" height="3"/>
<rect x="702" y="415" width="3" height="3"/>
<rect x="705" y="414" width="3" height="3"/>
<rect x="709" y="412" width="3" height="3"/>
<rect x="713" y="410" width="3" height="3"/>
<rect x="716" y="407" width="4" height="3"/>
<rect x="720" y="404" width="3" height="3"/>
<rect x="724" y="399" width="3" height="3"/>
<rect x="728" y="395" width="3" height="3"/>
<rect x="731" y="390" width="4" height="3"/>
<rect x="735" y="385" width="3" height="3"/>
<rect x="739" y="380" width="3" height="3"/>
<rect x="743" y="374" width="3" height="3"/>
<rect x="746" y="367" width="3" height="3"/>
<rect x="750" y="360" width="3" height="3"/>
<rect x="754" y="354" width="3" height="3"/>
<rect x="757" y="347" width="4" height="3"/>
<rect x="761" y="341" width="3" height="3"/>
<rect x="765" y="333" width="3" height="3"/>
<rect x="769" y="326" width="3" height="3"/>
<rect x="772" y="318" width="4" height="3"/>
<rect x="776" y="311" width="3" height="3"/>
<rect x="780" y="305" width="3" height="3"/>
<rect x="784" y="302" width="3" height="3"/>
<rect x="787" y="301" width="3" height="3"/>
<rect x="791" y="300" width="3" height="3"/>
<rect x="795" y="299" width="3" height="3"/>
<rect x="798" y="297" width="4" height="3"/>
<rect x="802" y="297" width="3" height="3"/>
<rect x="806" y="295" width="3" height="3"/>
<rect x="810" y="293" width="3" height="3"/>
<rect x="813" y="290" width="4" height="3"/>
<rect x="817" y="287" width="3" height="3"/>
<rect x="821" y="283" width="3" height="3"/>
<rect x="825" y="280" width="3" height="3"/>
<rect x="828" y="275" width="3" height="3"/>
<rect x="832" y="271" width="3" height="3"/>
<rect x="836" y="266" width="3" height="3"/>
<rect x="839" y="261" width="4" height="3"/>
<rect x="843" y="256" width="3" height="3"/>
<rect x="847" y="251" width="3" height="3"/>
<rect x="851" y="247" width="3" height="3"/>
<rect x="854" y="244" width="4" height="3"/>
<rect x="858" y="241" width="3" height="3"/>
<rect x="862" y="239" width="3" height="3"/>
<rect x="866" y="236" width="3" height="3"/>
<rect x="869" y="233" width="3" height="3"/>
<rect x="873" y="232" width="3" height="3"/>
<rect x="877" y="229" width="3" height="3"/>
<rect x="880" y="227" width="4" height="3"/>
<rect x="884" y="225" width="3" height="3"/>
<rect x="888" y="223" width="3" height="3"/>
<rect x="892" y="221" width="3" height="3"/>
<rect x="895" y="218" width="4" height="3"/>
<rect x="899" y="215" width="3" height="3"/>
<rect x="903" y="212" width="3" height="3"/>
<rect x="907" y="209" width="3" height="3"/>
<rect x="910" y="206" width="3" height="3"/>
<rect x="914" y="204" width="3" height="3"/>
<rect x="918" y="201" width="3" height="3"/>
<rect x="921" y="198" width="4" height="3"/>
<rect x="925" y="196" width="3" height="3"/>
<rect x="929" y="194" width="3" height="3"/>
<rect x="933" y="192" width="3" height="3"/>
<rect x="936" y="191" width="4" height="3"/>
<rect x="940" y="189" width="3" height="3"/>
<rect x="944" y="187" width="3" height="3"/>
<rect x="947" y="185" width="4" height="3"/>
<rect x="951" y="184" width="3" height="3"/>
<rect x="955" y="184" width="3" height="3"/>
<rect x="959" y="185" width="3" height="3"/>
<rect x="962" y="186" width="4" height="3"/>
<rect x="966" y="187" width="3" height="3"/>
<rect x="970" y="188" width="3" height="3"/>
<rect x="974" y="189" width="3" height="3"/>
<rect x="977" y="189" width="4" height="3"/>
<rect x="981" y="191" width="3" height="3"/>
<rect x="985" y="192" width="3" height="3"/>
<rect x="988" y="194" width="4" height="3"/>
<rect x="992" y="195" width="3" height="3"/>
<rect x="996" y="196" width="3" height="3"/>
<rect x="1000" y="198" width="3" height="3"/>
<rect x="1003" y="199" width="4" height="3"/>
<rect x="1007" y="200" width="3" height="3"/>
<rect x="1011" y="202" width="3" height="3"/>
<rect x="1015" y="203" width="3" height="3"/>
<rect x="1018" y="205" width="4" height="3"/>
<rect x="1022" y="205" width="3" height="3"/>
<rect x="1026" y="206" width="3" height="3"/>
<rect x="1029" y="205" width="4" height="3"/>
<rect x="1033" y="202" width="3" height="3"/>
<rect x="1037" y="200" width="3" height="3"/>
<rect x="1041" y="196" width="3" height="3"/>
<rect x="1044" y="194" width="4" height="3"/>
<rect x="1048" y="194" width="3" height="3"/>
<rect x="1052" y="194" width="3" height="3"/>
<rect x="1056" y="194" width="3" height="3"/>
<rect x="1059" y="195" width="4" height="3"/>
</g>
<polyline fill="none" stroke="#ff0000" stroke-width="2" stroke-linejoin="round" shape-rendering="crispEdges" points="0.0,492.7 2.0,490.9 4.0,489.1 6.0,487.1 8.0,485.1 10.0,483.0 12.0,480.4 14.0,477.4 16.0,474.2 18.0,471.5 20.0,469.6 22.0,469.0 24.0,469.0 26.0,469.0 28.0,469.0 30.0,469.7 32.0,471.2 34.0,472.5 36.0,472.5 38.0,471.3 40.0,469.4 42.0,467.7 44.0,466.5 46.0,465.5 48.0,464.6 50.0,463.8 52.0,463.1 54.0,462.4 56.0,461.9 58.0,461.4 60.0,460.8 62.0,459.8 64.0,456.6 66.0,451.6 68.0,446.5 70.0,443.0 72.0,441.2 74.0,440.0 76.0,438.9 78.0,437.7 80.0,436.0 82.0,433.4 84.0,430.0 86.0,426.5 88.0,423.4 90.0,420.1 92.0,417.9 94.0,418.0 96.0,419.3 98.0,420.0 100.0,419.9 102.0,419.6 104.0,419.2 106.0,419.0 108.0,419.2 110.0,420.3 112.0,421.8 114.0,423.3 116.0,424.6 118.0,426.0 120.0,427.4 122.0,428.6 124.0,429.4 126.0,430.0 128.0,430.4 130.0,430.8 132.0,431.2 134.0,431.7 136.0,432.4 138.0,433.4 140.0,435.0 142.0,437.0 144.0,439.1 146.0,441.1 148.0,442.8 150.0,444.5 152.0,446.2 154.0,447.8 156.0,449.4 158.0,451.0 160.0,452.5 162.0,453.9 164.0,455.5 166.0,457.3 168.0,459.7 170.0,463.0 172.0,466.6 174.0,469.6 176.0,471.6 178.0,473.3 180.0,474.6 182.0,475.0 184.0,475.0 186.0,475.0 188.0,475.0 190.0,474.4 192.0,472.9 194.0,470.8 196.0,468.7 198.0,466.7 200.0,464.6 202.0,462.3 204.0,459.9 206.0,457.5 208.0,455.1 210.0,452.6 212.0,450.1 214.0,447.7 216.0,445.6 218.0,444.0 220.0,442.7 222.0,441.5 224.0,440.5 226.0,439.5 228.0,438.4 230.0,437.2 232.0,435.8 234.0,434.0 236.0,431.6 238.0,428.7 240.0,425.7 242.0,422.9 244.0,420.6 246.0,418.4 248.0,416.4 250.0,414.4 252.0,412.6 254.0,410.8 256.0,409.0 258.0,407.3 260.0,405.8 262.0,404.5 264.0,403.5 266.0,402.7 268.0,402.0 270.0,401.7 272.0,401.9 274.0,402.5 276.0,403.2 278.0,403.8 280.0,404.0 282.0,404.0 284.0,404.0 286.0,404.0 288.0,404.0 290.0,404.0 292.0,404.0 294.0,403.9 296.0,403.3 298.0,402.3 300.0,401.4 302.0,400.8 304.0,400.7 306.0,400.9 308.0,401.3 310.0,401.8 312.0,402.4 314.0,403.1 316.0,404.3 318.0,405.7 320.0,407.0 322.0,407.9 324.0,408.0 326.0,407.7 328.0,407.2 330.0,406.7 332.0,405.9 334.0,404.7 336.0,403.2 338.0,401.6 340.0,400.0 342.0,398.4 344.0,396.6 346.0,394.8 348.0,392.9 350.0,390.9 352.0,389.0 354.0,387.0 356.0,385.0 358.0,382.9 360.0,380.7 362.0,378.6 364.0,376.6 366.0,374.6 368.0,372.7 370.0,370.5 372.0,368.4 374.0,366.7 376.0,365.8 378.0,365.7 380.0,365.9 382.0,366.1 384.0,366.3 386.0,366.6 388.0,366.9 390.0,367.3 392.0,367.7 394.0,368.2 396.0,368.6 398.0,368.9 400.0,369.0 402.0,368.9 404.0,368.6 406.0,368.1 408.0,367.6 410.0,366.9 412.0,366.3 414.0,365.7 416.0,364.9 418.0,364.0 420.0,363.0 422.0,362.1 424.0,361.3 426.0,360.3 428.0,359.3 430.0,358.6 432.0,358.3 434.0,358.4 436.0,358.7 438.0,359.0 440.0,359.5 442.0,360.0 444.0,360.7 446.0,361.6 448.0,362.6 450.0,363.8 452.0,365.0 454.0,366.5 456.0,368.2 458.0,369.8 460.0,370.7 462.0,371.0 464.0,371.2 466.0,371.3 468.0,371.6 470.0,372.3 472.0,374.2 474.0,376.8 476.0,379.7 478.0,382.3 480.0,384.3 482.0,386.2 484.0,388.0 486.0,389.7 488.0,391.2 490.0,392.6 492.0,393.9 494.0,395.1 496.0,396.2 498.0,396.9 500.0,397.2 502.0,397.4 504.0,397.5 506.0,397.7 508.0,397.9 510.0,398.3 512.0,399.2 514.0,400.4 516.0,401.6 518.0,402.7 520.0,403.5 522.0,404.3 524.0,405.1 526.0,405.8 528.0,406.5 530.0,407.1 532.0,407.7 534.0,408.2 536.0,408.9 538.0,409.7 540.0,410.8 542.0,412.7 544.0,414.8 546.0,417.0 548.0,419.0 550.0,421.3 552.0,423.4 554.0,424.8 556.0,425.0 558.0,425.0 560.0,425.0 562.0,425.0 564.0,425.0 566.0,425.0 568.0,424.6 570.0,424.1 572.0,423.5 574.0,422.9 576.0,422.5 578.0,422.1 580.0,421.7 582.0,421.3 584.0,420.9 586.0,420.5 588.0,419.9 590.0,419.3 592.0,418.8 594.0,418.2 596.0,417.8 598.0,417.3 600.0,416.9 602.0,416.5 604.0,416.2 606.0,415.8 608.0,415.4 610.0,415.1 612.0,415.0 614.0,415.4 616.0,416.4 618.0,417.6 620.0,418.8 622.0,420.2 624.0,421.8 626.0,423.3 628.0,424.6 630.0,425.6 632.0,426.6 634.0,427.4 636.0,428.1 638.0,428.8 640.0,429.4 642.0,430.1 644.0,430.6 646.0,431.0 648.0,431.0 650.0,431.0 652.0,430.9 654.0,430.8 656.0,430.5 658.0,429.8 660.0,428.8 662.0,427.5 664.0,426.4 666.0,425.6 668.0,424.8 670.0,424.1 672.0,423.4 674.0,422.9 676.0,422.6 678.0,422.4 680.0,422.2 682.0,422.0 684.0,421.8 686.0,421.5 688.0,421.1 690.0,420.6 692.0,420.0 694.0,419.3 696.0,418.7 698.0,418.0 700.0,417.1 702.0,416.0 704.0,414.2 706.0,411.8 708.0,409.0 710.0,406.1 712.0,403.0 714.0,399.7 716.0,396.3 718.0,392.7 720.0,389.0 722.0,385.0 724.0,380.8 726.0,376.4 728.0,371.7 730.0,366.7 732.0,361.1 734.0,355.6 736.0,350.6 738.0,345.9 740.0,341.4 742.0,336.7 744.0,331.9 746.0,327.0 748.0,321.8 750.0,316.0 752.0,309.7 754.0,302.9 756.0,296.0 758.0,288.8 760.0,281.2 762.0,273.5 764.0,266.0 766.0,259.0 768.0,252.5 770.0,246.0 772.0,240.0 774.0,235.0 776.0,231.2 778.0,227.6 780.0,224.9 782.0,224.0 784.0,225.8 786.0,228.9 788.0,231.7 790.0,233.6 792.0,235.3 794.0,236.9 796.0,238.5 798.0,240.1 800.0,242.0 802.0,243.8 804.0,244.8 806.0,244.9 808.0,244.6 810.0,243.9 812.0,243.1 814.0,242.2 816.0,240.6 818.0,238.5 820.0,236.3 822.0,234.0 824.0,232.0 826.0,230.3 828.0,228.5 830.0,226.6 832.0,224.3 834.0,221.4 836.0,217.2 838.0,212.4 840.0,208.0 842.0,203.9 844.0,199.7 846.0,196.0 848.0,193.0 850.0,190.7 852.0,188.6 854.0,187.2 856.0,186.4 858.0,186.0 860.0,185.7 862.0,185.3 864.0,184.5 866.0,183.1 868.0,181.7 870.0,181.0 872.0,181.1 874.0,181.5 876.0,181.7 878.0,181.6 880.0,181.3 882.0,180.8 884.0,180.3 886.0,179.7 888.0,179.0 890.0,178.2 892.0,177.4 894.0,176.4 896.0,175.2 898.0,174.2 900.0,173.1 902.0,172.0 904.0,171.1 906.0,170.6 908.0,170.4 910.0,170.0 912.0,168.8 914.0,166.8 916.0,164.8 918.0,162.4 920.0,160.0 922.0,158.0 924.0,156.3 926.0,155.1 928.0,155.1 930.0,155.4 932.0,155.7 934.0,155.8 936.0,155.8 938.0,155.8 940.0,155.1 942.0,153.6 944.0,152.8 946.0,152.4 948.0,152.2 950.0,152.2 952.0,152.3 954.0,152.6 956.0,152.9 958.0,154.0 960.0,156.7 962.0,159.2 964.0,161.9 966.0,164.9 968.0,168.6 970.0,171.7 972.0,173.9 974.0,175.8 976.0,177.5 978.0,179.1 980.0,180.8 982.0,183.1 984.0,185.5 986.0,187.5 988.0,189.4 990.0,191.3 992.0,193.1 994.0,194.9 996.0,196.7 998.0,198.6 1000.0,200.4 1002.0,202.1 1004.0,203.9 1006.0,205.7 1008.0,207.4 1010.0,209.1 1012.0,210.7 1014.0,212.2 1016.0,213.6 1018.0,214.8 1020.0,215.9 1022.0,216.8 1024.0,217.0 1026.0,216.9 1028.0,216.6 1030.0,215.1 1032.0,213.0 1034.0,209.9 1036.0,206.4 1038.0,203.0 1040.0,199.4 1042.0,194.9 1044.0,187.7 1046.0,185.2 1048.0,184.8 1050.0,185.0 1052.0,187.1 1054.0,188.5 1056.0,189.5 1058.0,189.8 1060.0,190.0"/>
<rect x="708" y="87" width="582" height="3" fill="#3f48cc"/>
<line x1="778.3" y1="333.7" x2="1105" y2="218.7" stroke="#3f48cc" stroke-width="2.8"/>
<polygon points="1068.5,194.5 1080.5,174.5 1080.5,184.5 1092.5,184.5 1092.5,204.5 1080.5,204.5 1080.5,214.5" fill="#ed1c24" stroke="#000" stroke-width="1" shape-rendering="crispEdges"/>
<g shape-rendering="crispEdges" fill="#000">
<rect x="1254" y="0" width="1" height="600"/>
<rect x="1246" y="34" width="8" height="1"/>
<rect x="1246" y="98" width="8" height="1"/>
<rect x="1246" y="162" width="8" height="1"/>
<rect x="1246" y="225" width="8" height="1"/>
<rect x="1246" y="289" width="8" height="1"/>
<rect x="1246" y="352" width="8" height="1"/>
<rect x="1246" y="416" width="8" height="1"/>
<rect x="1246" y="479" width="8" height="1"/>
<rect x="1246" y="543" width="8" height="1"/>
<rect x="1251" y="3" width="3" height="1"/>
<rect x="1251" y="66" width="3" height="1"/>
<rect x="1251" y="130" width="3" height="1"/>
<rect x="1251" y="193" width="3" height="1"/>
<rect x="1251" y="257" width="3" height="1"/>
<rect x="1251" y="321" width="3" height="1"/>
<rect x="1251" y="384" width="3" height="1"/>
<rect x="1251" y="447" width="3" height="1"/>
<rect x="1251" y="511" width="3" height="1"/>
<rect x="1251" y="574" width="3" height="1"/>
</g>
<text class="a" x="1257.4" y="43">15,</text>
<text class="a" x="1257.4" y="107">14,</text>
<text class="a" x="1257.4" y="171">13,</text>
<text class="a" x="1257.4" y="234">12,</text>
<text class="a" x="1257.4" y="298">11,</text>
<text class="a" x="1257.4" y="361">10,</text>
<text class="a" x="1257.4" y="425">9,</text>
<text class="a" x="1257.4" y="488">8,</text>
<text class="a" x="1257.4" y="552">7,</text>
<text class="n" x="43.7" y="318.7" textLength="53.6" lengthAdjust="spacingAndGlyphs">10.31</text>
<text class="n" x="222.0" y="325.8" textLength="43.0" lengthAdjust="spacingAndGlyphs">9.94</text>
<text class="n" x="166.0" y="570.8" textLength="43.0" lengthAdjust="spacingAndGlyphs">7.00</text>
<text class="n" x="310.7" y="469.0" textLength="43.0" lengthAdjust="spacingAndGlyphs">8.54</text>
<text class="n" x="349.3" y="259.7" textLength="54.7" lengthAdjust="spacingAndGlyphs">11.26</text>
<text class="n" x="538.7" y="492.5" textLength="43.1" lengthAdjust="spacingAndGlyphs">8.27</text>
<text class="n" x="621.0" y="486.3" textLength="43.0" lengthAdjust="spacingAndGlyphs">8.43</text>
<text class="n" x="673.7" y="458.3" textLength="42.3" lengthAdjust="spacingAndGlyphs">9.08</text>
<text class="n" x="774.0" y="361.0" textLength="53.5" lengthAdjust="spacingAndGlyphs">10.40</text>
<text class="n" x="747.7" y="43.0" textLength="53.3" lengthAdjust="spacingAndGlyphs">14.51</text>
<text class="n" x="904.3" y="68.0" textLength="54.7" lengthAdjust="spacingAndGlyphs">14.10</text>
<text class="n" x="1023.7" y="70.8" textLength="54.3" lengthAdjust="spacingAndGlyphs">14.13</text>
<text class="n" x="982.3" y="295.8" textLength="54.5" lengthAdjust="spacingAndGlyphs">11.47</text>
<text class="b" x="303.0" y="60.0" textLength="147.2" lengthAdjust="spacingAndGlyphs" style="fill:#000">karel günlük</text>
<text class="b" x="303.7" y="109.8" textLength="150.8" lengthAdjust="spacingAndGlyphs" style="fill:#000">20 ho=12.55</text>
<text class="b" x="303.7" y="134.8" textLength="150.8" lengthAdjust="spacingAndGlyphs" style="fill:#000">50 ho=12.47</text>
<text class="b" x="1101.0" y="208.3" textLength="104.2" lengthAdjust="spacingAndGlyphs" style="fill:#000">ortalama</text>
<text class="b" x="1101.0" y="233.0" textLength="87.0" lengthAdjust="spacingAndGlyphs" style="fill:#000">desteği</text>
<text class="b" x="869.0" y="326.3" textLength="157.8" lengthAdjust="spacingAndGlyphs" style="fill:#3f48cc">trend desteği</text>
</svg></body></html>
